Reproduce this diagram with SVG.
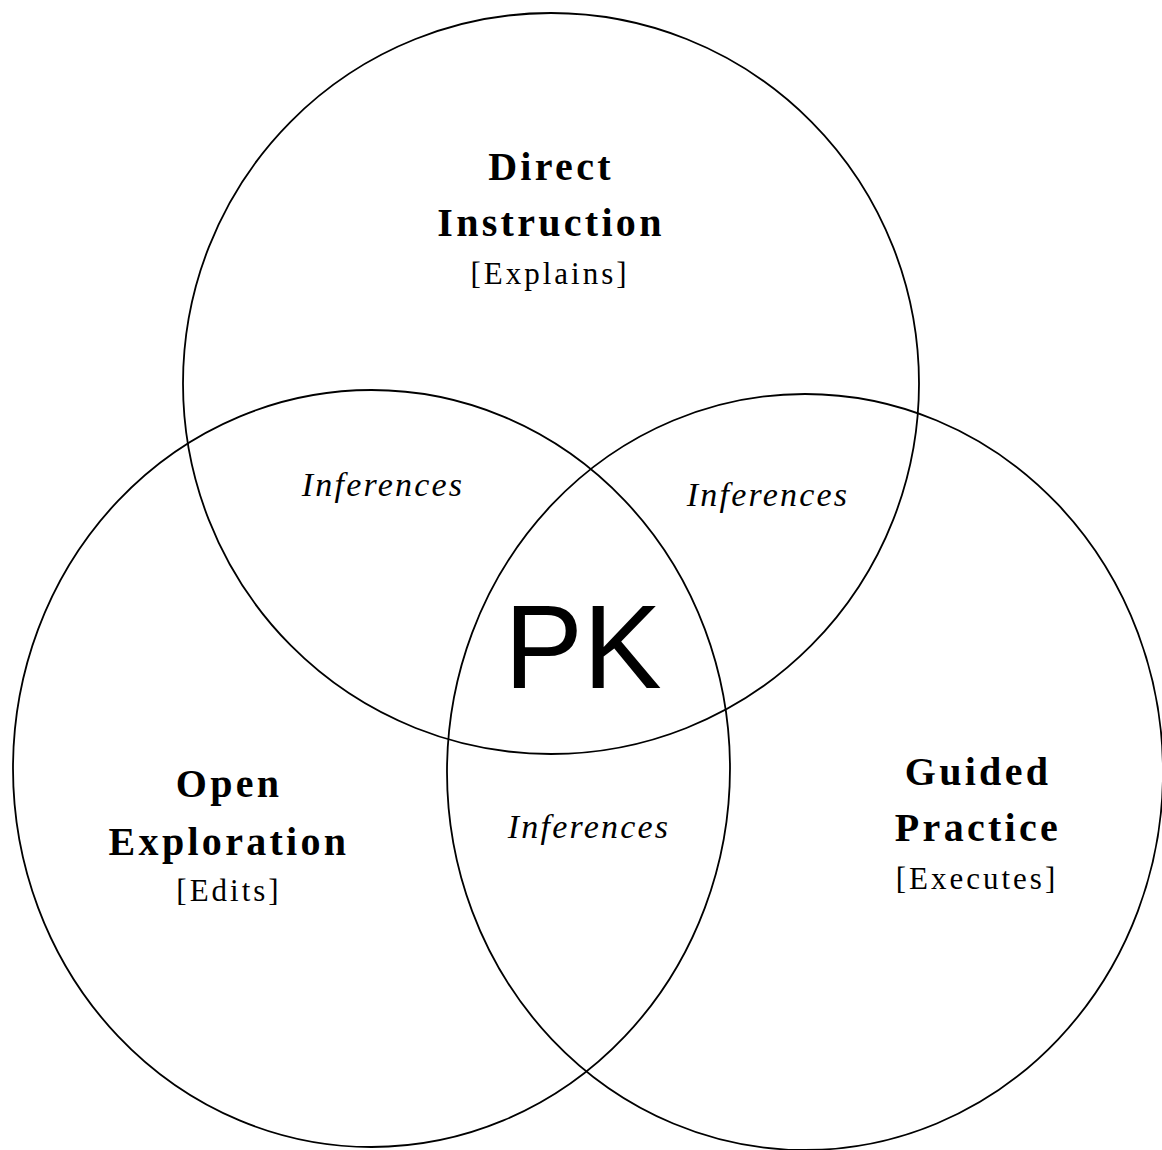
<svg xmlns="http://www.w3.org/2000/svg" width="1162" height="1150" viewBox="0 0 1162 1150">
<style>
.c{fill:none;stroke:#000;stroke-width:1.8}
.t{font-family:"Liberation Serif","Times New Roman",serif;font-weight:bold;font-size:40px;letter-spacing:3.3px;text-anchor:middle;fill:#000}
.s{font-family:"Liberation Serif","Times New Roman",serif;font-size:31px;letter-spacing:3px;text-anchor:middle;fill:#000}
.i{font-family:"Liberation Serif","Times New Roman",serif;font-style:italic;font-size:34px;letter-spacing:2.2px;text-anchor:middle;fill:#000}
.pk{font-family:"Liberation Sans",Arial,sans-serif;font-size:118px;text-anchor:middle;fill:#000}
</style>
<rect width="1162" height="1150" fill="#fff"/>
<g id="direct-instruction">
<ellipse class="c" cx="551" cy="383.5" rx="368" ry="370.5"/>
<text class="t" x="551" y="180">Direct</text>
<text class="t" x="551" y="236">Instruction</text>
<text class="s" x="550" y="284">[Explains]</text>
</g>
<g id="open-exploration">
<ellipse class="c" cx="371.5" cy="768.5" rx="358.5" ry="378.5"/>
<text class="t" x="229" y="797">Open</text>
<text class="t" x="229" y="855">Exploration</text>
<text class="s" x="229" y="901">[Edits]</text>
</g>
<g id="guided-practice">
<ellipse class="c" cx="805" cy="772" rx="358" ry="378"/>
<text class="t" x="978" y="785">Guided</text>
<text class="t" x="978" y="841">Practice</text>
<text class="s" x="977" y="889">[Executes]</text>
</g>
<g id="inferences-top-left">
<text class="i" x="383" y="496">Inferences</text>
</g>
<g id="inferences-top-right">
<text class="i" x="768" y="506">Inferences</text>
</g>
<g id="inferences-bottom">
<text class="i" x="589" y="838">Inferences</text>
</g>
<g id="pk">
<text class="pk" x="583" y="688">PK</text>
</g>
<g id="connectors"></g>
</svg>
